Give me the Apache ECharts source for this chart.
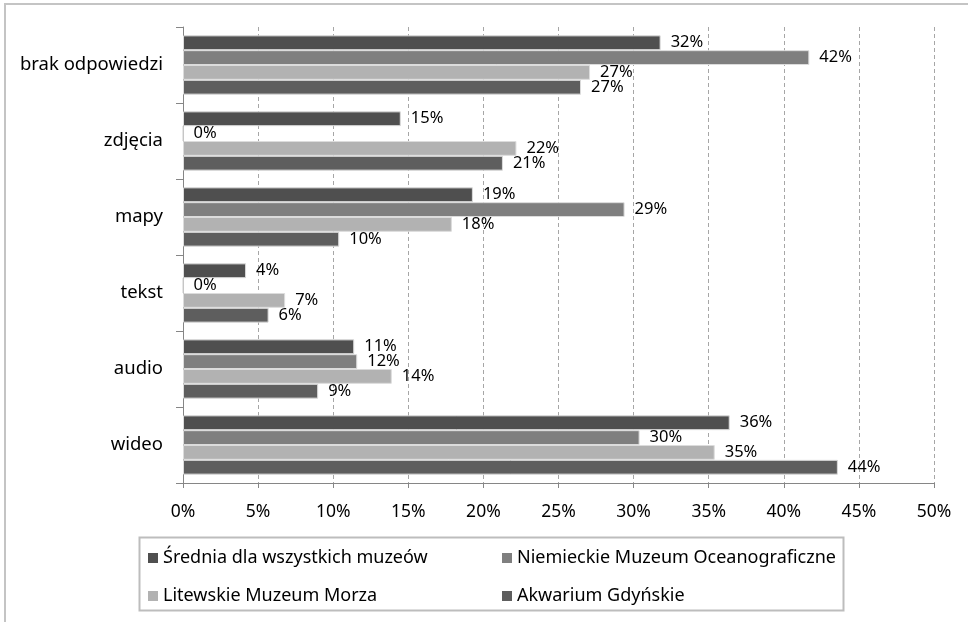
<!DOCTYPE html>
<html>
<head>
<meta charset="utf-8">
<script src="https://cdn.jsdelivr.net/npm/echarts@6/dist/echarts.min.js"></script>
<style>
  html, body { margin: 0; padding: 0; background: #fff; }
  #main { width: 968px; height: 622px; }
</style>
</head>
<body>
<div id="main"></div>
<script>
// kategorie od dołu do góry (tak jak rysuje oś kategorii)
var categories = ['wideo', 'audio', 'tekst', 'mapy', 'zdjęcia', 'brak odpowiedzi'];
var seriesNames = ['Średnia dla wszystkich muzeów', 'Niemieckie Muzeum Oceanograficzne', 'Litewskie Muzeum Morza', 'Akwarium Gdyńskie'];
var srednia = [36.4, 11.4, 4.2, 19.3, 14.5, 31.8];
var niemieckie = [30.4, 11.6, 0, 29.4, 0, 41.7];
var litewskie = [35.4, 13.9, 6.8, 17.9, 22.2, 27.1];
var akwarium = [43.6, 9.0, 5.7, 10.4, 21.3, 26.5];
var colors = ['#4f4f4f', '#7f7f7f', '#b2b2b2', '#5e5e5e'];

var FONT = 'Noto Sans';
var myChart = echarts.init(document.getElementById('main'));

var values = [srednia, niemieckie, litewskie, akwarium];
var series = values.map(function (v, i) {
    return {
        name: seriesNames[i],
        type: 'bar',
        data: v,
        barGap: '0%',
        barCategoryGap: '22%',
        itemStyle: { color: colors[i], borderColor: '#dcdcdc', borderWidth: 1 },
        label: {
            show: true,
            position: 'right',
            distance: 10,
            fontFamily: FONT,
            fontSize: 16.5,
            color: '#000',
            formatter: function (p) { return Math.round(p.value) + '%'; }
        }
    };
});

option = {
    animation: false,
    color: colors,
    grid: { left: 183, right: 34, top: 27, bottom: 139, containLabel: false },
    legend: {
        data: seriesNames,
        left: 143,
        top: 539,
        width: 720,
        itemWidth: 10,
        itemHeight: 10,
        itemGap: 10,
        icon: 'rect',
        itemStyle: { borderWidth: 0 },
        textStyle: { fontFamily: FONT, fontSize: 18, color: '#000', width: 329, lineHeight: 28 }
    },
    graphic: [
        { type: 'rect', shape: { x: 5, y: 4, width: 1000, height: 700 }, style: { fill: 'none', stroke: '#c4c4c4', lineWidth: 2 } },
        { type: 'rect', shape: { x: 139.5, y: 537.5, width: 704, height: 73 }, style: { fill: 'none', stroke: '#bdbdbd', lineWidth: 2 } }
    ],
    xAxis: {
        type: 'value',
        min: 0,
        max: 50,
        interval: 5,
        axisLine: { show: true, lineStyle: { color: '#868686' } },
        axisTick: { show: true, length: 5, lineStyle: { color: '#868686' } },
        axisLabel: { fontFamily: FONT, fontSize: 17.5, color: '#000', margin: 20, formatter: '{value}%' },
        splitLine: { show: true, lineStyle: { color: '#a6a6a6', type: [4, 3] } }
    },
    yAxis: {
        type: 'category',
        data: categories,
        axisLine: { show: true, lineStyle: { color: '#868686' } },
        axisTick: { show: true, length: 7, lineStyle: { color: '#868686' } },
        axisLabel: { fontFamily: FONT, fontSize: 18.5, color: '#000', margin: 20 }
    },
    series: series
};
myChart.setOption(option);
</script>
</body>
</html>
